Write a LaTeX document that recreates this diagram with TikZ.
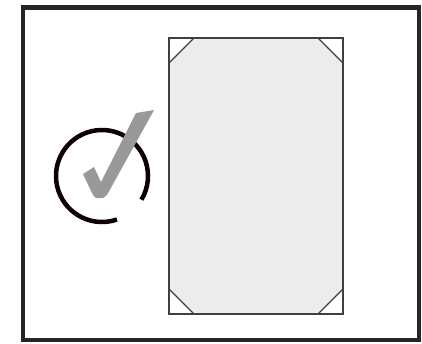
\documentclass[tikz,border=0pt]{standalone}
\begin{document}
\begin{tikzpicture}[x=1pt,y=-1pt,
  frame/.style={draw=black!85,line width=4.5pt},
  sheet/.style={draw=black!75,line width=1.2pt},
  ring/.style={draw=black!90!red!60!black,line width=4.5pt},
  tick/.style={fill=black!40,draw=none}]
\useasboundingbox (0,0) rectangle (422,343);
\fill[white] (0,0) rectangle (422,343);
\draw[frame] (23,7.5) rectangle (419,340);
% sheet with cut corners
\fill[black!7] (169,63) -- (194,38) -- (318,38) -- (343,63) -- (343,289) -- (318,314) -- (194,314) -- (169,289) -- cycle;
\draw[sheet] (169,38) rectangle (343,314);
\draw[sheet] (169,63) -- (194,38);
\draw[sheet] (318,38) -- (343,63);
\draw[sheet] (169,289) -- (194,314);
\draw[sheet] (318,314) -- (343,289);
% ring
\coordinate (c) at (102,176);
\draw[ring] (c) ++(71:46) arc[start angle=71,end angle=391,radius=46];
% tick
\fill[tick] (83,174) -- (94,167) -- (101,182) -- (136,113) -- (154,110) -- (107,195) -- (103,198) -- (96,198) -- (93,195) -- cycle;
\end{tikzpicture}
\end{document}
